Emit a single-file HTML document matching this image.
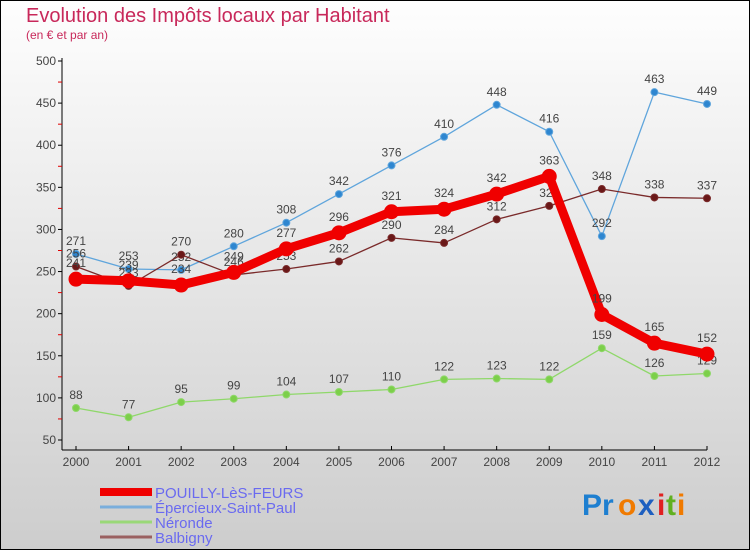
<!DOCTYPE html>
<html><head><meta charset="utf-8"><style>
body{margin:0}
#c{width:750px;height:550px;position:relative;font-family:"Liberation Sans",sans-serif}
svg text{font-family:"Liberation Sans",sans-serif}
</style></head><body>
<div id="c">
<svg id="s" width="750" height="550" xmlns="http://www.w3.org/2000/svg">
<defs><linearGradient id="bg" x1="0" y1="0" x2="0" y2="1"><stop offset="0" stop-color="#fefefe"/><stop offset="1" stop-color="#cdcdcd"/></linearGradient></defs>
<rect x="0.5" y="0.5" width="749" height="549" fill="url(#bg)" stroke="#000"/>
<text x="26" y="22" font-size="20" fill="#c8285a">Evolution des Impôts locaux par Habitant</text>
<text x="26" y="39" font-size="12" fill="#c8285a">(en € et par an)</text>
<g id="axes"></g><g id="series"></g><g id="legend"></g>
<g font-size="30" font-weight="bold">
<text x="582" y="515" fill="#1e7fd0">Pr</text><text x="618" y="515" fill="#f07a00">o</text><text x="638" y="515" fill="#1e5fc0">x</text><text x="657" y="515" fill="#e02020">i</text><text x="666" y="515" fill="#60b020">t</text><text x="677" y="515" fill="#f07a00">i</text>
</g>
</svg></div>
<script>
const years=[2000,2001,2002,2003,2004,2005,2006,2007,2008,2009,2010,2011,2012];
const pouilly=[241,239,234,249,277,296,321,324,342,363,199,165,152];
const epercieux=[271,253,252,280,308,342,376,410,448,416,292,463,449];
const neronde=[88,77,95,99,104,107,110,122,123,122,159,126,129];
const balbigny=[256,233,270,246,253,262,290,284,312,328,348,338,337];
const yTicks=[50,100,150,200,250,300,350,400,450,500];
const NS="http://www.w3.org/2000/svg";
const xs=i=>76+i*(707-76)/12;
const ys=v=>61+(500-v)*(379/450);
function mk(t,a,p){const e=document.createElementNS(NS,t);for(const k in a)e.setAttribute(k,a[k]);p.appendChild(e);return e;}
const ax=document.getElementById('axes');
const yl=mk('line',{x1:62,y1:58,x2:62,y2:450,stroke:'#000'},ax);


const xl=mk('line',{x1:62,y1:450,x2:707,y2:450,stroke:'#000'},ax);


yTicks.forEach(v=>{
 mk('line',{x1:58,y1:ys(v),x2:62,y2:ys(v),stroke:'#000'},ax);
 if(v<500)mk('line',{x1:58,y1:ys(v+25),x2:62,y2:ys(v+25),stroke:'#e00000'},ax);
 const t=mk('text',{x:56,y:ys(v)+4,'font-size':12,fill:'#444','text-anchor':'end'},ax);t.textContent=v;
 
 
});
years.forEach((y,i)=>{
 mk('line',{x1:xs(i),y1:446,x2:xs(i),y2:450,stroke:'#000'},ax);
 const t=mk('text',{x:xs(i),y:466,'font-size':12,fill:'#444','text-anchor':'middle'},ax);t.textContent=y;
 
 
});
const sg=document.getElementById('series');
function draw(name,data,color,w,r,pc,labelOff){
 const g=mk('g',{},sg);
 
 
 mk('polyline',{points:data.map((v,i)=>xs(i)+','+ys(v)).join(' '),fill:'none',stroke:color,'stroke-width':w,'stroke-linejoin':'round'},g);
 data.forEach((v,i)=>{
  const c=mk('circle',{cx:xs(i),cy:ys(v),r:r,fill:pc,stroke:color,'stroke-width':1},g);
  
  
  const t=mk('text',{x:xs(i),y:ys(v)-labelOff,'font-size':12,fill:'#444','text-anchor':'middle'},g);t.textContent=v;
 });
}
draw('epercieux',epercieux,'#5fa5dc',1.3,3.5,'#2e86d0',9);
draw('neronde',neronde,'#8fd86a',1.3,3.5,'#7ccf4a',9);
draw('balbigny',balbigny,'#7a2a2a',1.3,3.5,'#6a1818',9);
draw('pouilly',pouilly,'#f00000',9,7,'#f00000',12);
const lg=document.getElementById('legend');
[['POUILLY-LèS-FEURS','#f00000',8],['Épercieux-Saint-Paul','#7aaedc',3],['Néronde','#9ad878',3],['Balbigny','#9a6060',3]].forEach((d,i)=>{
 const g=mk('g',{},lg);
 
 
 const y=492+i*15;
 mk('line',{x1:100,y1:y,x2:152,y2:y,stroke:d[1],'stroke-width':d[2]},g);
 const t=mk('text',{x:155,y:y+6,'font-size':15,fill:'#6a6af0'},g);t.textContent=d[0];
});
</script>
</body></html>
